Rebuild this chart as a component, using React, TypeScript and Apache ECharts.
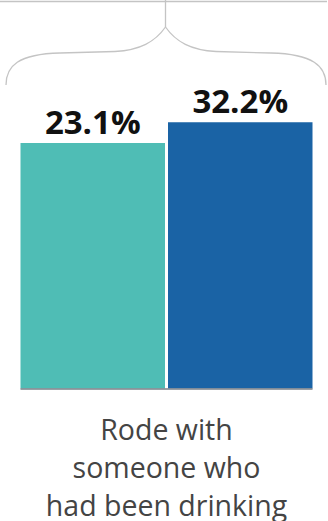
import React, { useEffect, useRef } from "react";
import * as echarts from "echarts";

const categories = ["Rode with\nsomeone who\nhad been drinking"];
const groupA = [23.1];
const groupB = [32.2];
const colorA = "#4FBDB5";
const colorB = "#1A63A5";
const AXIS_MIN = -85;
const AXIS_MAX = 40;

export default function App() {
  const ref = useRef<HTMLDivElement>(null);
  useEffect(() => {
    if (!ref.current) return;
    const chart = echarts.init(ref.current, null, { renderer: "svg" });
    const braceStyle = { stroke: "#c4c4c4", lineWidth: 1.3, fill: "none" };

    const makeRender = (color: string, side: number) => (params: any, api: any) => {
      const cat = api.value(0);
      const v = api.value(1);
      const top = api.coord([cat, v]);
      const base = api.coord([cat, AXIS_MIN]);
      const w = 144.5;
      const gap = 1.5;
      const x = side < 0 ? top[0] - gap - w : top[0] + gap;
      return {
        type: "group",
        children: [
          {
            type: "rect",
            shape: { x, y: top[1], width: w, height: base[1] - top[1] },
            style: { fill: color },
          },
          {
            type: "text",
            x: x + w / 2,
            y: top[1] - 5,
            style: {
              text: Number(v).toFixed(1) + "%",
              textAlign: "center",
              textVerticalAlign: "bottom",
              fontFamily: "Open Sans",
              fontWeight: "bold",
              fontSize: 33,
              fill: "#111",
            },
          },
        ],
      };
    };

    chart.setOption({
      animation: false,
      grid: {
        left: 21,
        right: 16,
        top: 104.6,
        bottom: 132.6,
        containLabel: false,
        outerBoundsMode: "none",
      },
      xAxis: {
        type: "category",
        data: categories,
        axisTick: { show: false },
        axisLine: { onZero: false, lineStyle: { color: "#7a8088", width: 1.5 } },
        axisLabel: {
          fontFamily: "Open Sans",
          fontSize: 28.5,
          lineHeight: 38,
          color: "#444",
          margin: 22,
          interval: 0,
        },
        z: 5,
      },
      yAxis: { type: "value", min: AXIS_MIN, max: AXIS_MAX, show: false },
      series: [
        {
          type: "custom",
          name: "A",
          data: groupA.map((v, i) => [i, v]),
          renderItem: makeRender(colorA, -1),
          encode: { x: 0, y: 1 },
          z: 2,
        },
        {
          type: "custom",
          name: "B",
          data: groupB.map((v, i) => [i, v]),
          renderItem: makeRender(colorB, 1),
          encode: { x: 0, y: 1 },
          z: 2,
        },
      ],
      graphic: [
        { type: "line", shape: { x1: 0, y1: 1.5, x2: 327, y2: 1.5 }, style: braceStyle },
        { type: "line", shape: { x1: 165.5, y1: 0, x2: 165.5, y2: 27 }, style: braceStyle },
        {
          type: "bezierCurve",
          shape: { x1: 165.5, y1: 27, cpx1: 155, cpy1: 42, cpx2: 140, cpy2: 50, x2: 115, y2: 51.5 },
          style: braceStyle,
        },
        { type: "line", shape: { x1: 115, y1: 51.5, x2: 60, y2: 53 }, style: braceStyle },
        {
          type: "bezierCurve",
          shape: { x1: 60, y1: 53, cpx1: 18, cpy1: 54, cpx2: 6, cpy2: 66, x2: 6, y2: 85 },
          style: braceStyle,
        },
        {
          type: "bezierCurve",
          shape: { x1: 165.5, y1: 27, cpx1: 176, cpy1: 42, cpx2: 191, cpy2: 50, x2: 216, y2: 51.5 },
          style: braceStyle,
        },
        { type: "line", shape: { x1: 216, y1: 51.5, x2: 271, y2: 53 }, style: braceStyle },
        {
          type: "bezierCurve",
          shape: { x1: 271, y1: 53, cpx1: 313, cpy1: 54, cpx2: 326, cpy2: 66, x2: 326, y2: 85 },
          style: braceStyle,
        },
      ],
    });
    return () => chart.dispose();
  }, []);
  return (
    <div
      ref={ref}
      style={{ position: "absolute", left: 0, top: 0, width: 328, height: 521, background: "#fff" }}
    />
  );
}
